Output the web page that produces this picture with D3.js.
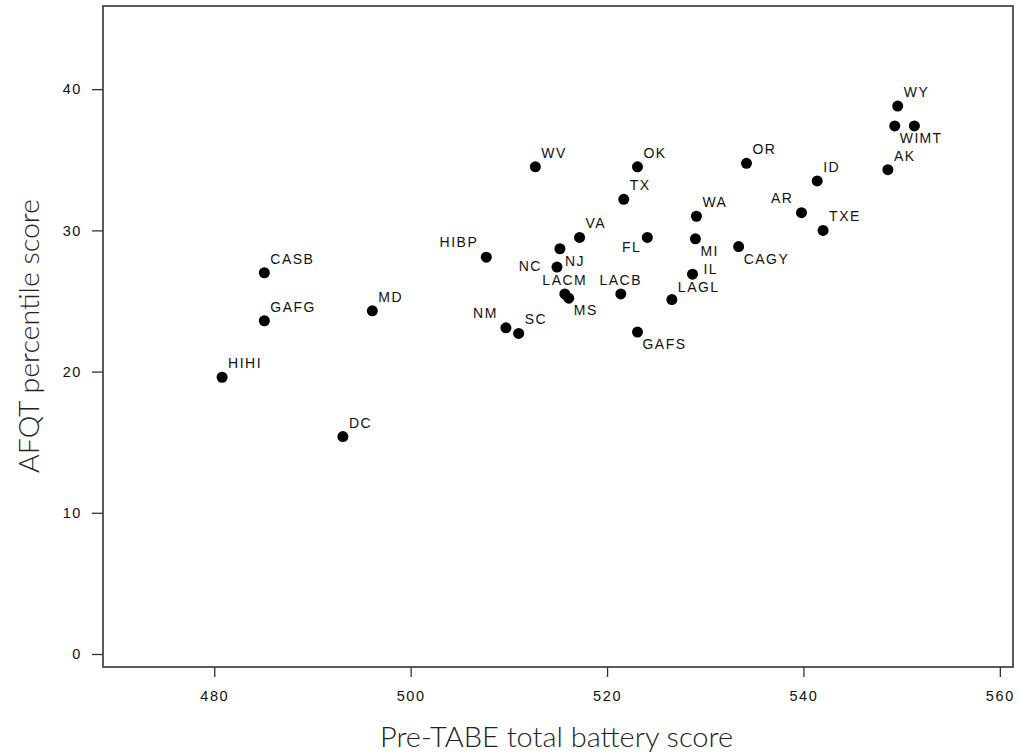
<!DOCTYPE html>
<html>
<head>
<meta charset="utf-8">
<script src="https://cdn.jsdelivr.net/npm/d3@7"></script>
<style>
  html, body { margin: 0; padding: 0; background: #fff; }
  svg { display: block; }
</style>
</head>
<body>
<svg id="chart" width="1021" height="755"></svg>
<script>
// ---- data ----
const sites = ["HIHI","CASB","GAFG","MD","DC","WV","HIBP","NC","NJ","VA","LACM","MS","NM","SC","OK","TX","FL","LACB","GAFS","LAGL","IL","MI","WA","CAGY","OR","AR","ID","TXE","AK","WY","WI","MT"];
const preTabe = [480.8,485.1,485.1,496.1,493.1,512.7,507.7,514.9,515.2,517.2,515.7,516.1,509.7,511.0,523.1,521.7,524.1,521.4,523.1,526.6,528.7,529.0,529.1,533.4,534.2,539.8,541.4,542.0,548.6,549.6,549.3,551.3];
const afqt = [19.6,27.0,23.6,24.3,15.4,34.5,28.1,27.4,28.7,29.5,25.5,25.2,23.1,22.7,34.5,32.2,29.5,25.5,22.8,25.1,26.9,29.4,31.0,28.85,34.75,31.25,33.5,30.0,34.3,38.8,37.4,37.4];
const xTicks = [480,500,520,540,560];
const yTicks = [0,10,20,30,40];
const xTitle = "Pre-TABE total battery score";
const yTitle = "AFQT percentile score";

// ---- layout ----
const L = 103, R = 1013, T = 6, B = 667;
const x = d3.scaleLinear().domain([468.67, 561.34]).range([L, R]);
const y = d3.scaleLinear().domain([-0.92, 45.89]).range([B, T]);

// label placement (position code per site)
const place = {HIBP:"ul", NC:"l", NJ:"lr", LACM:"uc", MS:"lr", NM:"ul", FL:"ll", LACB:"uc", GAFS:"lr", IL:"r", MI:"lr", CAGY:"lr", AR:"ul", WI:"lr", MT:"lr", LAGL:"ur2"};
const off = {
  ur: {dx: 6, dy: -9, a: "start"},
  ur2: {dx: 6, dy: -8, a: "start"},
  lr: {dx: 5, dy: 17, a: "start"},
  ul: {dx: -8, dy: -10, a: "end"},
  ll: {dx: -6, dy: 15, a: "end"},
  uc: {dx: 0, dy: -9, a: "middle"},
  l:  {dx: -15, dy: 4, a: "end"},
  r:  {dx: 11, dy: 0, a: "start"}
};

const svg = d3.select("#chart");
const data = sites.map((s, i) => ({s, x: preTabe[i], y: afqt[i]}));

// axes
const gx = svg.append("g").attr("transform", `translate(0,${B})`)
  .call(d3.axisBottom(x).tickValues(xTicks).tickSize(10).tickPadding(14).tickFormat(d3.format("d")));
const gy = svg.append("g").attr("transform", `translate(${L},0)`)
  .call(d3.axisLeft(y).tickValues(yTicks).tickSize(11).tickPadding(10).tickFormat(d3.format("d")));
[gx, gy].forEach(g => {
  g.select(".domain").remove();
  g.selectAll(".tick line").attr("stroke", "#333").attr("stroke-width", 1.3);
  g.selectAll(".tick text")
    .attr("fill", "#111")
    .style("font-family", "'Liberation Sans', Arial, sans-serif")
    .style("font-size", "14.5px")
    .style("letter-spacing", "1.6px");
});

// frame
svg.append("rect").attr("x", L).attr("y", T).attr("width", R - L).attr("height", B - T)
  .attr("fill", "none").attr("stroke", "#333").attr("stroke-width", 1.6);

// points
svg.append("g").selectAll("circle").data(data).join("circle")
  .attr("cx", d => x(d.x)).attr("cy", d => y(d.y)).attr("r", 5.5).attr("fill", "#000");

// labels
svg.append("g").selectAll("text").data(data).join("text")
  .each(function(d) {
    const o = off[place[d.s] || "ur"];
    d3.select(this)
      .attr("x", x(d.x) + o.dx).attr("y", y(d.y) + o.dy)
      .attr("text-anchor", o.a);
  })
  .attr("fill", "#111")
  .style("font-family", "'Liberation Sans', Arial, sans-serif")
  .style("font-size", "14px")
  .style("letter-spacing", "1.5px")
  .text(d => d.s);

// titles
svg.append("text")
  .attr("x", 556.5).attr("y", 747)
  .attr("text-anchor", "middle")
  .attr("textLength", 353).attr("lengthAdjust", "spacingAndGlyphs")
  .attr("fill", "#222")
  .style("font-family", "Lato, 'DejaVu Sans', sans-serif")
  .style("font-weight", 300)
  .style("font-size", "28px")
  .text(xTitle);

svg.append("text")
  .attr("transform", "translate(39,336) rotate(-90)")
  .attr("text-anchor", "middle")
  .attr("textLength", 274).attr("lengthAdjust", "spacingAndGlyphs")
  .attr("fill", "#222")
  .style("font-family", "Lato, 'DejaVu Sans', sans-serif")
  .style("font-weight", 300)
  .style("font-size", "28px")
  .text(yTitle);
</script>
</body>
</html>
